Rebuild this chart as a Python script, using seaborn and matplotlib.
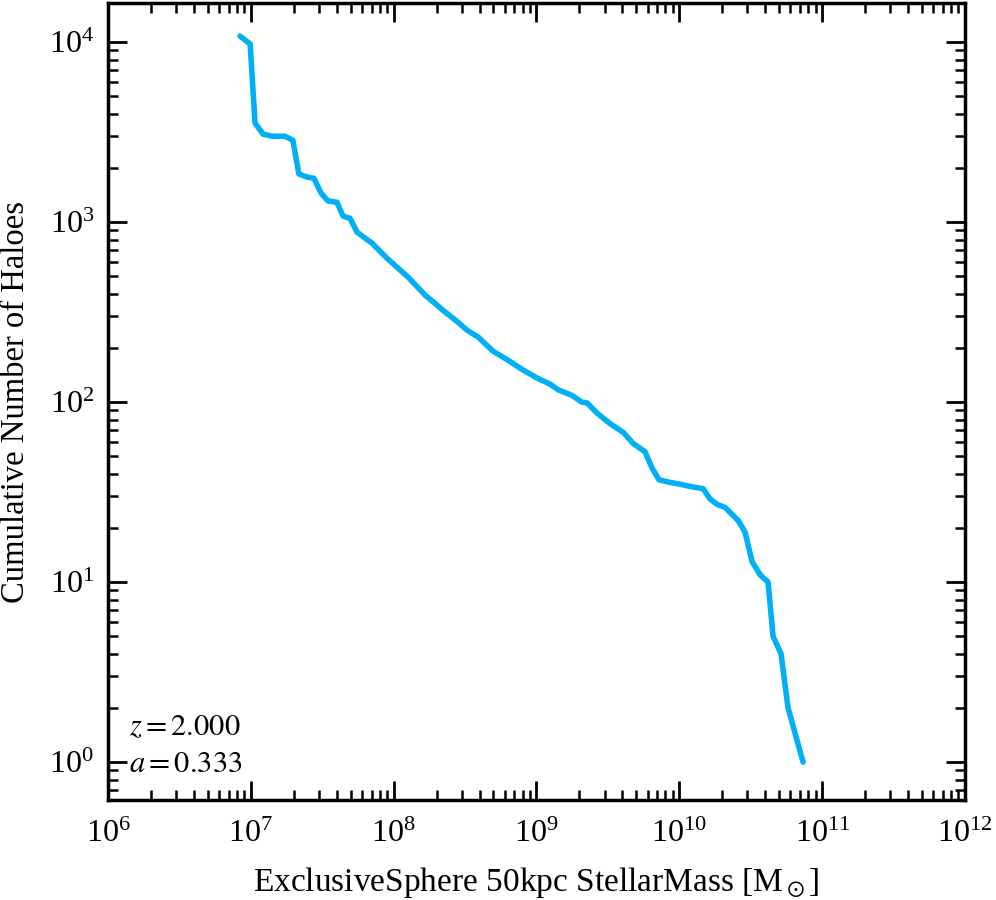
import numpy as np
import pandas as pd
import matplotlib
matplotlib.use("Agg")
import matplotlib.pyplot as plt
import seaborn as sns

# Cumulative halo counts vs stellar mass
stellar_mass = [8.4e6, 9.9e6, 1.07e7, 1.22e7, 1.41e7, 1.73e7, 1.97e7, 2.17e7, 2.47e7, 2.77e7,
                3.10e7, 3.47e7, 4.01e7, 4.42e7, 4.95e7, 5.54e7, 6.30e7, 7.05e7, 8.98e7, 1.26e8,
                1.66e8, 2.01e8, 2.21e8, 2.82e8, 3.26e8, 3.90e8, 4.96e8, 6.31e8, 7.92e8, 1.01e9,
                1.24e9, 1.42e9, 1.77e9, 2.08e9, 2.26e9, 2.65e9, 3.27e9, 4.04e9, 4.74e9, 5.75e9,
                6.44e9, 7.21e9, 8.34e9, 1.01e10, 1.19e10, 1.47e10, 1.64e10, 1.84e10, 2.09e10, 2.58e10,
                2.88e10, 3.23e10, 3.67e10, 4.18e10, 4.53e10, 5.15e10, 5.77e10, 7.35e10]
n_haloes = [10800, 9750, 3550, 3080, 3000, 3000, 2850, 1850, 1780, 1750,
            1450, 1310, 1290, 1080, 1050, 880, 815, 765, 630, 495,
            393, 346, 324, 278, 251, 230, 192, 171, 152, 136,
            126, 117, 109, 100, 99, 87, 76, 68, 59, 53,
            43, 37, 36, 35, 34, 33, 29, 27, 26, 22,
            19, 13, 11, 10, 5, 4, 2, 1]

redshift = 2.000
scale_factor = 0.333

df = pd.DataFrame({"mass": stellar_mass, "n": n_haloes})

sns.set_style("ticks")
plt.rcParams["font.family"] = ["Liberation Serif", "DejaVu Serif"]
plt.rcParams["mathtext.fontset"] = "stix"
plt.rcParams["text.color"] = "black"
plt.rcParams["axes.labelcolor"] = "black"
plt.rcParams["xtick.color"] = "black"
plt.rcParams["ytick.color"] = "black"

fig = plt.figure(figsize=(9.96, 9.0), dpi=100)
ax = fig.add_axes([0.1084, 0.111, 0.8605, 0.8857])

sns.lineplot(data=df, x="mass", y="n", ax=ax, color="#00b0f6", linewidth=4.0,
             estimator=None, sort=False)

ax.set_xscale("log")
ax.set_yscale("log")
ax.set_xlim(1e6, 1e12)
ax.set_ylim(0.615, 1.65e4)

ax.set_xlabel(r"ExclusiveSphere 50kpc StellarMass [M$_\odot$]", fontsize=24, labelpad=12)
ax.set_ylabel("Cumulative Number of Haloes", fontsize=23.5, labelpad=13)

ax.tick_params(which="both", top=True, right=True, direction="in", width=2,
               colors="black", labelcolor="black")
ax.tick_params(which="major", length=14, labelsize=23, pad=14)
ax.tick_params(axis="y", which="major", pad=10)
ax.tick_params(which="minor", length=7, width=1.8)
for sp in ax.spines.values():
    sp.set_linewidth(2.5)
    sp.set_color("black")

ax.text(0.025, 0.082, rf"$z = {redshift:.3f}$", transform=ax.transAxes, fontsize=22)
ax.text(0.025, 0.035, rf"$a = {scale_factor:.3f}$", transform=ax.transAxes, fontsize=22)

fig.savefig("out.png", dpi=100)
